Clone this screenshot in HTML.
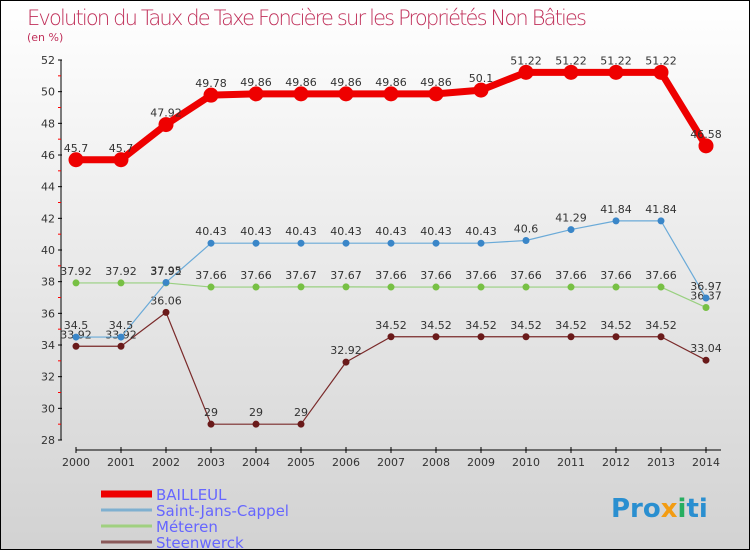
<!DOCTYPE html>
<html><head><meta charset="utf-8"><style>
body{margin:0}
#c{width:750px;height:550px;position:relative;box-sizing:border-box;border:1px solid #000;background:linear-gradient(#fff,#d2d2d2);font-family:"DejaVu Sans","Liberation Sans",sans-serif;overflow:hidden}
</style></head><body>
<div id="c">
<svg id="s" width="748" height="548" style="position:absolute;left:0;top:0">
<text x="26" y="24" font-size="21" fill="#c0305a" font-family="DejaVu Sans" font-weight="200" textLength="560">Evolution du Taux de Taxe Foncière sur les Propriétés Non Bâties</text>
<text x="26" y="40" font-size="11" fill="#c0305a">(en %)</text>
<g id="g"></g>
<text x="610" y="516" font-size="26" font-weight="bold" fill="#2a8fd0" font-family="DejaVu Sans">Pro<tspan fill="#f39c12">x</tspan><tspan fill="#27ae60">i</tspan>ti</text>
</svg>
</div>
<script>
const years=["2000","2001","2002","2003","2004","2005","2006","2007","2008","2009","2010","2011","2012","2013","2014"];
const bailleul=[45.7,45.7,47.92,49.78,49.86,49.86,49.86,49.86,49.86,50.1,51.22,51.22,51.22,51.22,46.58];
const sjc=[34.5,34.5,37.95,40.43,40.43,40.43,40.43,40.43,40.43,40.43,40.6,41.29,41.84,41.84,36.97];
const meteren=[37.92,37.92,37.92,37.66,37.66,37.67,37.67,37.66,37.66,37.66,37.66,37.66,37.66,37.66,36.37];
const steenwerck=[33.92,33.92,36.06,29,29,29,32.92,34.52,34.52,34.52,34.52,34.52,34.52,34.52,33.04];
const yTicks=[28,30,32,34,36,38,40,42,44,46,48,50,52];
const seriesNames=["BAILLEUL","Saint-Jans-Cappel","Méteren","Steenwerck"];
const NS="http://www.w3.org/2000/svg",g=document.getElementById('g');
const X=i=>75+i*45, Y=v=>439-(v-28)*(380/24);
function el(t,a,p){const e=document.createElementNS(NS,t);for(const k in a)e.setAttribute(k,a[k]);(p||g).appendChild(e);return e;}
let e=el('line',{x1:60,y1:Y(52),x2:60,y2:Y(28),stroke:'#000'});

e=el('line',{x1:75,y1:449,x2:720,y2:449,stroke:'#000'});

yTicks.forEach(v=>{el('line',{x1:57,x2:61,y1:Y(v),y2:Y(v),stroke:'#000'});
 if(v<52)el('line',{x1:57,x2:60,y1:Y(v+1),y2:Y(v+1),stroke:'red'});
 const t=el('text',{x:54,y:Y(v)+4,'font-size':11,'text-anchor':'end',fill:'#333'});t.textContent=v;
 });
years.forEach((y,i)=>{el('line',{x1:X(i),x2:X(i),y1:446,y2:452,stroke:'#000'});
 const t=el('text',{x:X(i),y:465,'font-size':11,'text-anchor':'middle',fill:'#333'});t.textContent=y;
 });
function series(d,col,w,r,name,dotcol){
 const p=el('polyline',{points:d.map((v,i)=>X(i)+','+Y(v)).join(' '),fill:'none',stroke:col,'stroke-width':w,'stroke-linejoin':'round'});
 
 d.forEach((v,i)=>{const c=el('circle',{cx:X(i),cy:Y(v),r:r,fill:dotcol,stroke:dotcol});
  
  const t=el('text',{x:X(i),y:Y(v)-8,'font-size':11,'text-anchor':'middle',fill:'#333'});t.textContent=String(v);
  });
}
series(steenwerck,'#7a2a2a',1.2,3,'steenwerck','#6a1a1a');
series(meteren,'#99d080',1.2,3,'meteren','#77c044');
series(sjc,'#6aaad8',1.2,3,'saint-jans-cappel','#3a86c8');
series(bailleul,'#ee0000',7,7,'bailleul','#ee0000');
const lc=['#ee0000','#7fb0d0','#a0d080','#8a5a5a'],lw=[7,3,3,3];
seriesNames.forEach((n,i)=>{const yy=493+i*16;
 const l=el('line',{x1:100,x2:151,y1:yy,y2:yy,stroke:lc[i],'stroke-width':lw[i]});
 
 const t=el('text',{x:155,y:yy+6,'font-size':15,fill:'#6666ff'});t.textContent=n;
 });
</script>
</body></html>
